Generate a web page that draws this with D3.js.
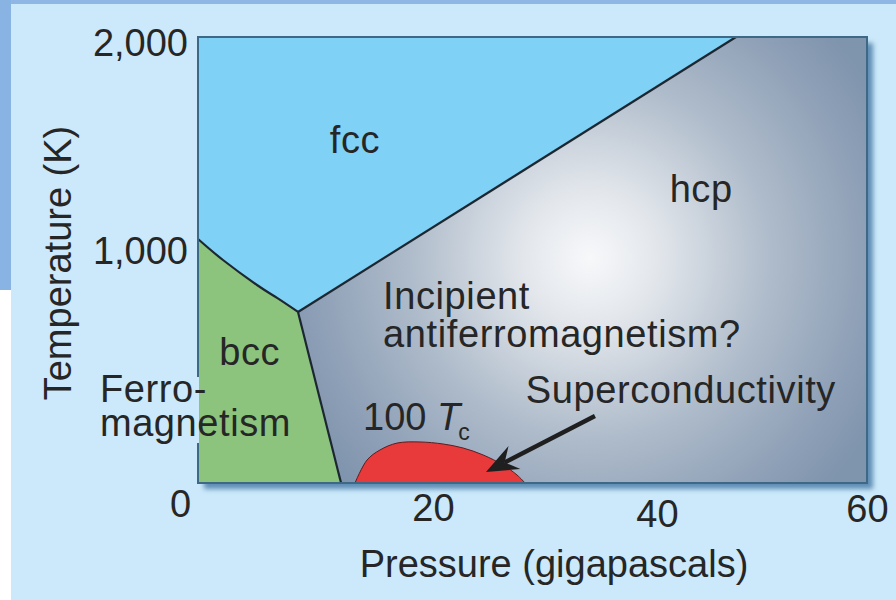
<!DOCTYPE html>
<html><head><meta charset="utf-8">
<script src="https://cdn.jsdelivr.net/npm/d3@7"></script>
<style>
body{margin:0;background:#fff}
svg{display:block}
text{font-family:"Liberation Sans",Arial,Helvetica,sans-serif;fill:#262626}
</style>
</head><body>
<svg id="chart" width="896" height="600"></svg>
<script>
// ---------- data ----------
const xTicks = [0, 20, 40, 60];
const yTicks = [1000, 2000];
const xDomain = [0, 60];           // pressure, GPa
const yDomain = [0, 2000];         // temperature, K
const fccBccBoundary = [[0,1094],[2.24,1000],[5.29,888],[7.09,830],[8.97,767]];
const triplePoint = [8.97, 767];
const fccHcpTop = [48.25, 2000];
const bccHcpBottom = [12.83, 0];
const scDome = [[14.08,0],[15.16,103],[16.32,148],[17.85,179],[19.91,184],[21.97,175],
                [23.77,157],[25.56,126],[27.35,81],[28.61,36],[29.33,0]];
const arrowFrom = [35.6, 300];
const arrowTo = [25.83, 49];
const labelTexts = ["fcc","hcp","Incipient","antiferromagnetism?","bcc","Ferro-","magnetism","Superconductivity"];
const labelP = [14.08, 42.3, 16.6, 16.6, 1.9, -8.8, -8.8, 29.4];
const labelT = [1480, 1260, 780, 610, 529, 363, 213, 359];
const tcLabel = {P: 14.8, T: 238};
const xTitle = "Pressure (gigapascals)";
const yTitle = "Temperature (K)";

// ---------- layout ----------
const W = 896, H = 600;
const plot = {l:198, r:867, t:37, b:483};
const x = d3.scaleLinear().domain(xDomain).range([plot.l, plot.r]);
const y = d3.scaleLinear().domain(yDomain).range([plot.b, plot.t]);
const bg = "#cbe9fa";

const svg = d3.select("#chart");
const defs = svg.append("defs");

// background & frame strips
svg.append("rect").attr("width", W).attr("height", H).attr("fill", bg);
svg.append("rect").attr("x",0).attr("y",0).attr("width",W).attr("height",4).attr("fill","#8fb7e5");
svg.append("rect").attr("x",0).attr("y",0).attr("width",11).attr("height",290).attr("fill","#89b3e2");
svg.append("rect").attr("x",0).attr("y",290).attr("width",11).attr("height",310).attr("fill","#ffffff");

// shadow
const blur = defs.append("filter").attr("id","blur").attr("x","-10%").attr("y","-10%").attr("width","120%").attr("height","120%");
blur.append("feGaussianBlur").attr("stdDeviation", 2.5);
svg.append("rect")
  .attr("x", plot.l + 6).attr("y", plot.t + 6)
  .attr("width", plot.r - plot.l).attr("height", plot.b - plot.t)
  .attr("fill", "#5f8db4").attr("filter","url(#blur)");

// radial gradient for hcp region
const grad = defs.append("radialGradient").attr("id","hcpGrad")
  .attr("gradientUnits","userSpaceOnUse").attr("cx",590).attr("cy",258).attr("r",330);
[[0,"#f7f8fa"],[0.2,"#e3e7ec"],[0.55,"#aebbca"],[0.85,"#8d9fb6"],[1,"#7f94ad"]].forEach(s=>
  grad.append("stop").attr("offset",s[0]).attr("stop-color",s[1]));

const px = d => [x(d[0]), y(d[1])];
const curveLine = d3.line().x(d=>x(d[0])).y(d=>y(d[1])).curve(d3.curveNatural);
const P = d => x(d[0]) + "," + y(d[1]);

// fcc region
const revBoundary = fccBccBoundary.slice().reverse();
svg.append("path")
  .attr("d", "M" + P([xDomain[0], yDomain[1]]) + "L" + P(fccHcpTop) + "L" + P(triplePoint) +
        curveLine(revBoundary).replace(/^M/,"L") + "Z")
  .attr("fill", "#7fd1f5");

// hcp region
svg.append("path")
  .attr("d", "M" + P(fccHcpTop) + "L" + P([xDomain[1], yDomain[1]]) + "L" + P([xDomain[1], yDomain[0]]) +
        "L" + P(bccHcpBottom) + "L" + P(triplePoint) + "Z")
  .attr("fill", "url(#hcpGrad)");

// bcc region
svg.append("path")
  .attr("d", curveLine(fccBccBoundary) + "L" + P(bccHcpBottom) + "L" + P([xDomain[0], yDomain[0]]) + "Z")
  .attr("fill", "#8cc47d");

// superconducting dome
const domeLine = d3.line().x(d=>x(d[0])).y(d=>y(d[1])).curve(d3.curveCatmullRom.alpha(0.5));
svg.append("path").attr("d", domeLine(scDome) + "Z")
  .attr("fill", "#e8393b").attr("stroke", "#5a1f1f").attr("stroke-width", 1);

// boundary lines
const lineStyle = sel => sel.attr("fill","none").attr("stroke","#1d2731").attr("stroke-width",2.2);
svg.append("path").attr("d", curveLine(fccBccBoundary)).call(lineStyle);
svg.append("path").attr("d", "M" + P(triplePoint) + "L" + P(fccHcpTop)).call(lineStyle);
svg.append("path").attr("d", "M" + P(triplePoint) + "L" + P(bccHcpBottom)).call(lineStyle);

// plot border
svg.append("rect")
  .attr("x", plot.l).attr("y", plot.t)
  .attr("width", plot.r - plot.l).attr("height", plot.b - plot.t)
  .attr("fill","none").attr("stroke","#3d6886").attr("stroke-width",2);
// gap in border behind "Ferro-magnetism"
svg.append("rect").attr("x", plot.l - 2).attr("y", 377).attr("width", 3).attr("height", 66).attr("fill", bg);

// arrow
(function(){
  const [x0,y0] = px(arrowFrom), [x1,y1] = px(arrowTo);
  const dx = x1-x0, dy = y1-y0, len = Math.hypot(dx,dy);
  const ux = dx/len, uy = dy/len, nx = -uy, ny = ux;
  const hl = 32, hw = 13, notch = 21;
  svg.append("line").attr("x1",x0).attr("y1",y0)
    .attr("x2", x1 - ux*notch).attr("y2", y1 - uy*notch)
    .attr("stroke","#1f1f1f").attr("stroke-width",4.5);
  const pts = [[x1,y1],[x1-ux*hl+nx*hw, y1-uy*hl+ny*hw],[x1-ux*notch, y1-uy*notch],[x1-ux*hl-nx*hw, y1-uy*hl-ny*hw]];
  svg.append("polygon").attr("points", pts.map(p=>p.join(",")).join(" ")).attr("fill","#1f1f1f");
})();

// region labels
const FS = 38;
labelTexts.forEach((t,i)=>{
  svg.append("text").attr("x", x(labelP[i])).attr("y", y(labelT[i]))
    .attr("text-anchor", t==="fcc" ? "middle" : "start")
    .attr("letter-spacing", 0.6)
    .attr("font-size", FS).text(t);
});
const tc = svg.append("text").attr("x", x(tcLabel.P)).attr("y", y(tcLabel.T)).attr("font-size", FS);
tc.append("tspan").text("100 ");
tc.append("tspan").attr("font-style","italic").text("T");
tc.append("tspan").attr("font-size", 23).attr("dx", -2).attr("dy", 10).text("c");

// axes
const xOff = {0:[-18,34], 20:[12,38], 40:[13,44], 60:[0,39]};
const xAxis = svg.append("g").attr("transform", `translate(0,${plot.b})`)
  .call(d3.axisBottom(x).tickValues(xTicks).tickSize(0).tickFormat(d3.format(",")));
xAxis.select(".domain").remove();
xAxis.selectAll("text").attr("font-size", FS).attr("font-family", null).attr("fill","#262626")
  .attr("dy", null).attr("y", d=>xOff[d][1]).attr("x", d=>xOff[d][0]);

const yOff = {1000:[-10,3], 2000:[0,18]};
const yAxis = svg.append("g").attr("transform", `translate(${plot.l},0)`)
  .call(d3.axisLeft(y).tickValues(yTicks).tickSize(0).tickFormat(d3.format(",")));
yAxis.select(".domain").remove();
yAxis.selectAll("text").attr("font-size", FS).attr("font-family", null).attr("fill","#262626")
  .attr("dy", null).attr("x", -10).attr("y", d=>yOff[d][1]);

svg.append("text").attr("x", 554).attr("y", 577).attr("text-anchor","middle").attr("font-size", FS).text(xTitle);
svg.append("text").attr("transform","translate(71,263) rotate(-90)").attr("text-anchor","middle")
  .attr("font-size", FS).text(yTitle);
</script>
</body></html>
